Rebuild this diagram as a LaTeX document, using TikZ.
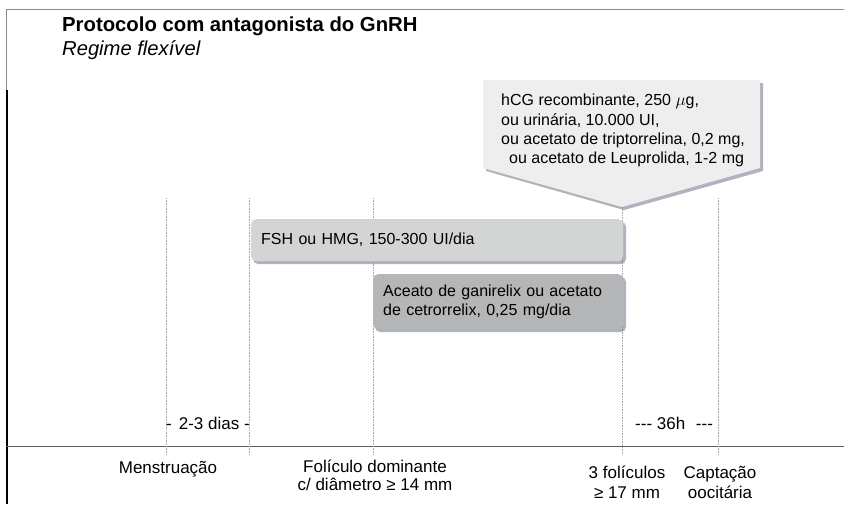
\documentclass[tikz,border=0pt]{standalone}
\usepackage{fontspec}
\setmainfont{Liberation Sans}
\usetikzlibrary{positioning}
\definecolor{frameg}{HTML}{8A8A8A}
\definecolor{axisg}{HTML}{5E5E5E}
\definecolor{dotg}{HTML}{A8A8A8}
\definecolor{calloutfill}{HTML}{EEEEEE}
\definecolor{fshfill}{HTML}{D3D4D4}
\definecolor{antfill}{HTML}{B4B6B7}
\definecolor{shadowc}{HTML}{70738A}
\tikzset{
  guide/.style={draw=dotg, line width=0.7pt, dash pattern=on 0.8pt off 0.8pt},
  barbox/.style={rounded corners=5pt, minimum height=42pt, align=left, inner xsep=10pt},
  lbl/.style={align=center},
  intervallbl/.style={font=\fontsize{17}{19}\selectfont, inner sep=0pt},
  shadowfill/.style={fill=shadowc, opacity=0.55}
}
\begin{document}
\begin{tikzpicture}[x=1pt,y=-1pt]
\useasboundingbox (0,0) rectangle (844,504);
\fill[white] (0,0) rectangle (844,504);
% frame
\draw[frameg, line width=1pt] (6.5,9) -- (844,9);
\draw[frameg, line width=1pt] (6.5,9) -- (6.5,90);
\draw[black, line width=2pt] (7,90) -- (7,504);
% title
\node[anchor=base west, inner sep=0pt, font=\bfseries\fontsize{20.3}{24}\selectfont] (title) at (62,31) {Protocolo com antagonista do GnRH};
\node[anchor=base west, inner sep=0pt, font=\itshape\fontsize{20.2}{24}\selectfont] (subtitle) at (62,55) {Regime flexível};
% axis
\draw[axisg, line width=1pt] (6,446) -- (844,446);
% guides
\coordinate (g1t) at (166,198); \coordinate (g1b) at (166,455);
\coordinate (g2t) at (249,198); \coordinate (g2b) at (249,455);
\coordinate (g3t) at (373,198); \coordinate (g3b) at (373,455);
\coordinate (g4t) at (622,207); \coordinate (g4b) at (622,455);
\coordinate (g5t) at (718,198); \coordinate (g5b) at (718,455);
\draw[guide] (g1t) -- (g1b);
\draw[guide] (g2t) -- (g2b);
\draw[guide] (g3t) -- (g3b);
\draw[guide] (g4t) -- (g4b);
\draw[guide] (g5t) -- (g5b);
% callout
\fill[shadowfill] (486,83) -- (763,83) -- (763,171) -- (624,210) -- (486,171) -- cycle;
\fill[calloutfill] (483,80) -- (760,80) -- (760,168) -- (622,207) -- (483,168) -- cycle;
\node[anchor=north west, inner sep=0pt, align=left, font=\fontsize{16}{19.3}\selectfont] (hcg) at (501,94)
  {hCG recombinante, 250 $\mu$g,\\ou urinária, 10.000 UI,\\ou acetato de triptorrelina, 0,2 mg,\\\hspace*{8pt}ou acetato de Leuprolida, 1-2 mg};
% FSH bar
\fill[shadowfill, rounded corners=5pt] (253,222) rectangle (626,264);
\node[barbox, fill=fshfill, minimum width=372pt, text width=352pt, anchor=north west, font=\fontsize{16}{19}\selectfont] (fsh) at (251,219) {FSH ou HMG, 150-300 UI/dia};
% antagonist bar
\fill[shadowfill, rounded corners=5pt] (375,277) rectangle (626,332);
\node[barbox, fill=antfill, minimum width=250pt, minimum height=55pt, text width=230pt, anchor=north west, font=\fontsize{16}{19}\selectfont] (ant) at (373,274) {Aceato de ganirelix ou acetato\\de cetrorrelix, 0,25 mg/dia};
% intervals
\node[intervallbl, anchor=west] (dias) at (166,423) {-\hspace{7pt}2-3 dias -};
\node[intervallbl, anchor=west] (h36) at (635,423) {-{}-{}- 36h\hspace{6pt} -{}-{}-};
% bottom labels
\node[lbl, font=\fontsize{17}{19}\selectfont] (menst) at (168,469) {Menstruação};
\node[lbl, font=\fontsize{17}{18}\selectfont] (fol) at (375,475) {Folículo dominante\\c/ diâmetro ≥ 14 mm};
\node[lbl, font=\fontsize{17}{20}\selectfont] (tres) at (627,482) {3 folículos\\≥ 17 mm};
\node[lbl, font=\fontsize{17}{20}\selectfont] (capt) at (720,482) {Captação\\oocitária};
\end{tikzpicture}
\end{document}
